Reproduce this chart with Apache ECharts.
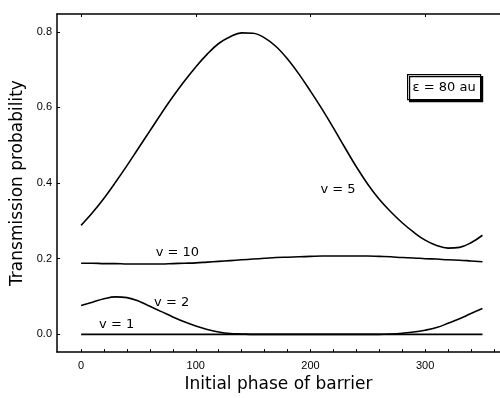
<!DOCTYPE html>
<html><head><meta charset="utf-8">
<script src="https://cdn.jsdelivr.net/npm/echarts@6/dist/echarts.min.js"></script>
<style>html,body{margin:0;padding:0;background:#fff}#c{width:500px;height:398px}</style>
</head><body><div id="c"></div>
<script>
// Data
const phases = [0,10,20,30,40,50,60,70,80,90,100,110,120,130,140,150,160,170,180,190,200,210,220,230,240,250,260,270,280,290,300,310,320,330,340,350];
const v5  = [0.288,0.322,0.360,0.402,0.446,0.492,0.538,0.584,0.628,0.669,0.707,0.741,0.769,0.787,0.797,0.796,0.784,0.761,0.728,0.688,0.643,0.596,0.546,0.494,0.443,0.397,0.357,0.324,0.295,0.270,0.249,0.235,0.228,0.230,0.242,0.262];
const v10 = [0.188,0.188,0.187,0.187,0.186,0.186,0.186,0.186,0.187,0.188,0.189,0.191,0.193,0.195,0.197,0.199,0.201,0.203,0.204,0.205,0.206,0.207,0.207,0.207,0.207,0.207,0.206,0.205,0.203,0.202,0.200,0.199,0.197,0.196,0.194,0.192];
const v2  = [0.076,0.085,0.094,0.099,0.097,0.088,0.074,0.060,0.046,0.033,0.022,0.013,0.006,0.002,0.001,0,0,0,0,0,0,0,0,0,0,0,0,0.001,0.003,0.006,0.011,0.018,0.029,0.041,0.055,0.068];
const v1  = [0,0,0,0,0,0,0,0,0,0,0,0,0,0,0,0,0,0,0,0,0,0,0,0,0,0,0,0,0,0,0,0,0,0,0,0];
const seriesNames = ['v = 5','v = 10','v = 2','v = 1'];
const labelPos = [[224,0.382],[84,0.216],[79,0.083],[31,0.026]];
const xTickLabels = [0,100,200,300];
const xMinorTicks = [0,20,40,60,80,100,120,140,160,180,200,220,240,260,280,300,320,340,360];
const yTickLabels = [0,0.2,0.4,0.6,0.8];
const annotation = 'ε = 80 au';

const FONT = 'DejaVu Sans';
const chart = echarts.init(document.getElementById('c'), null, {renderer:'canvas'});
const allSeries = [v5, v10, v2, v1];
const xMin = -21, xMax = 365.3, yMin = -0.047, yMax = 0.847;

const option = {
  backgroundColor: '#fff',
  animation: false,
  grid: {left: 57, top: 14, right: 0, bottom: 40},
  xAxis: [{
    type: 'value', min: xMin, max: xMax, position: 'bottom',
    name: 'Initial phase of barrier', nameLocation: 'middle', nameGap: 21,
    nameTextStyle: {fontFamily: FONT, fontSize: 17, color: '#000'},
    axisLine: {show: true, onZero: false, lineStyle: {color: '#000', width: 1.5}},
    axisTick: {show: true, inside: true, length: 3, customValues: xMinorTicks, lineStyle: {color: '#000'}},
    axisLabel: {customValues: xTickLabels, fontFamily: 'Liberation Sans Narrow, Liberation Sans', fontSize: 11, color: '#000', margin: 8},
    splitLine: {show: false}
  }, {
    type: 'value', min: xMin, max: xMax, position: 'top',
    axisLine: {show: true, onZero: false, lineStyle: {color: '#000', width: 1.5}},
    axisTick: {show: true, inside: true, length: 3, customValues: xTickLabels, lineStyle: {color: '#000'}},
    axisLabel: {show: false}, splitLine: {show: false}
  }],
  yAxis: {
    type: 'value', min: yMin, max: yMax,
    name: 'Transmission probability', nameLocation: 'middle', nameGap: 31, nameRotate: 90,
    nameTextStyle: {fontFamily: FONT, fontSize: 17, color: '#000'},
    axisLine: {show: true, onZero: false, lineStyle: {color: '#000', width: 1.5}},
    axisTick: {show: true, inside: true, length: 3, customValues: yTickLabels, lineStyle: {color: '#000'}},
    axisLabel: {customValues: yTickLabels, formatter: v => v.toFixed(1), fontFamily: 'Liberation Sans', fontSize: 11, color: '#000', margin: 5},
    splitLine: {show: false}
  },
  series: allSeries.map((vals, i) => ({
    type: 'line', name: seriesNames[i], smooth: 0.4, symbol: 'none',
    data: phases.map((p, j) => [p, vals[j]]),
    lineStyle: {color: '#000', width: 1.6},
    markPoint: {
      symbol: 'circle', symbolSize: 0,
      label: {show: true, position: 'inside', formatter: seriesNames[i], fontFamily: FONT, fontSize: 13, color: '#000'},
      data: [{coord: labelPos[i]}]
    }
  })),
  graphic: [{
    type: 'group', left: 407, top: 74,
    children: [
      {type: 'rect', shape: {x: 0, y: 0, width: 73, height: 25},
       style: {fill: '#fff', stroke: '#000', lineWidth: 1.2, shadowColor: '#000', shadowOffsetX: 2, shadowOffsetY: 2, shadowBlur: 0}},
      {type: 'text', x: 36.5, y: 13,
       style: {text: annotation, fontFamily: FONT, fontSize: 13, fill: '#000', align: 'center', verticalAlign: 'middle'}}
    ]
  }]
};
chart.setOption(option);
</script></body></html>
